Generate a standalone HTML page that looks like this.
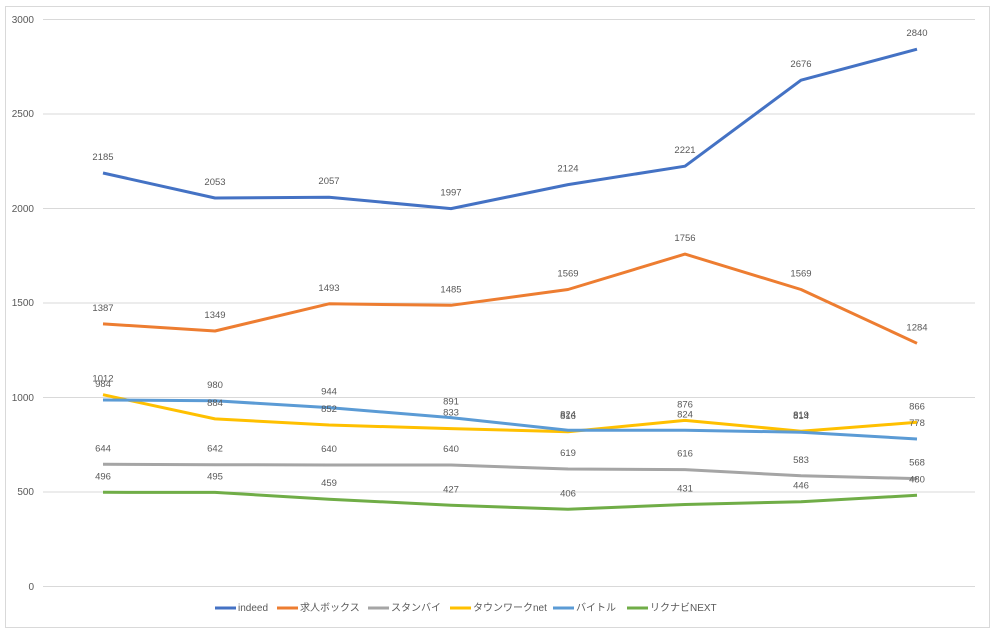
<!DOCTYPE html>
<html><head><meta charset="utf-8"><style>
body{margin:0;background:#fff}
svg text{font-family:"Liberation Sans","Noto Sans CJK JP",sans-serif;fill:#595959}
</style></head><body>
<svg width="995" height="633" xmlns="http://www.w3.org/2000/svg">
<rect x="5.5" y="6.5" width="984" height="621" fill="#fff" stroke="#d9d9d9"/>
<g stroke="#d9d9d9" stroke-width="1">
<line x1="43" x2="975" y1="19.5" y2="19.5"/><line x1="43" x2="975" y1="114" y2="114"/>
<line x1="43" x2="975" y1="208.5" y2="208.5"/><line x1="43" x2="975" y1="303" y2="303"/>
<line x1="43" x2="975" y1="397.5" y2="397.5"/><line x1="43" x2="975" y1="492" y2="492"/>
<line x1="43" x2="975" y1="586.5" y2="586.5"/>
</g>
<g font-size="10" text-anchor="end">
<text x="34" y="23">3000</text><text x="34" y="117">2500</text><text x="34" y="212">2000</text>
<text x="34" y="306">1500</text><text x="34" y="401">1000</text><text x="34" y="495">500</text><text x="34" y="590">0</text>
</g>
<g id="s" fill="none" stroke-width="3" stroke-linejoin="round"></g>
<g id="l" font-size="9.5" text-anchor="middle"></g>
<g font-size="10">
<line x1="215" x2="236" y1="608" y2="608" stroke="#4472c4" stroke-width="3"/><text x="238" y="611">indeed</text>
<line x1="277" x2="298" y1="608" y2="608" stroke="#ed7d31" stroke-width="3"/><text x="300" y="611">求人ボックス</text>
<line x1="368" x2="389" y1="608" y2="608" stroke="#a5a5a5" stroke-width="3"/><text x="391" y="611">スタンバイ</text>
<line x1="450" x2="471" y1="608" y2="608" stroke="#ffc000" stroke-width="3"/><text x="473" y="611">タウンワークnet</text>
<line x1="553" x2="574" y1="608" y2="608" stroke="#5b9bd5" stroke-width="3"/><text x="576" y="611">バイトル</text>
<line x1="627" x2="648" y1="608" y2="608" stroke="#70ad47" stroke-width="3"/><text x="650" y="611">リクナビNEXT</text>
</g>
</svg>
<script>
var X=[103,215,329,451,568,685,801,917];
var S=[["#4472c4",[2185,2053,2057,1997,2124,2221,2676,2840]],
["#ed7d31",[1387,1349,1493,1485,1569,1756,1569,1284]],
["#a5a5a5",[644,642,640,640,619,616,583,568]],
["#ffc000",[1012,884,852,833,816,876,819,866]],
["#5b9bd5",[984,980,944,891,824,824,814,778]],
["#70ad47",[496,495,459,427,406,431,446,480]]];
var ns="http://www.w3.org/2000/svg",g=document.getElementById("s"),l=document.getElementById("l");
function y(v){return 586-v*0.189;}
S.forEach(function(s){var p=document.createElementNS(ns,"polyline");
p.setAttribute("points",s[1].map(function(v,i){return X[i]+","+y(v).toFixed(1)}).join(" "));
p.setAttribute("stroke",s[0]);g.appendChild(p);
s[1].forEach(function(v,i){var t=document.createElementNS(ns,"text");t.setAttribute("x",X[i]);t.setAttribute("y",(y(v)-13).toFixed(1));t.textContent=v;l.appendChild(t);});});
</script>
</body></html>
